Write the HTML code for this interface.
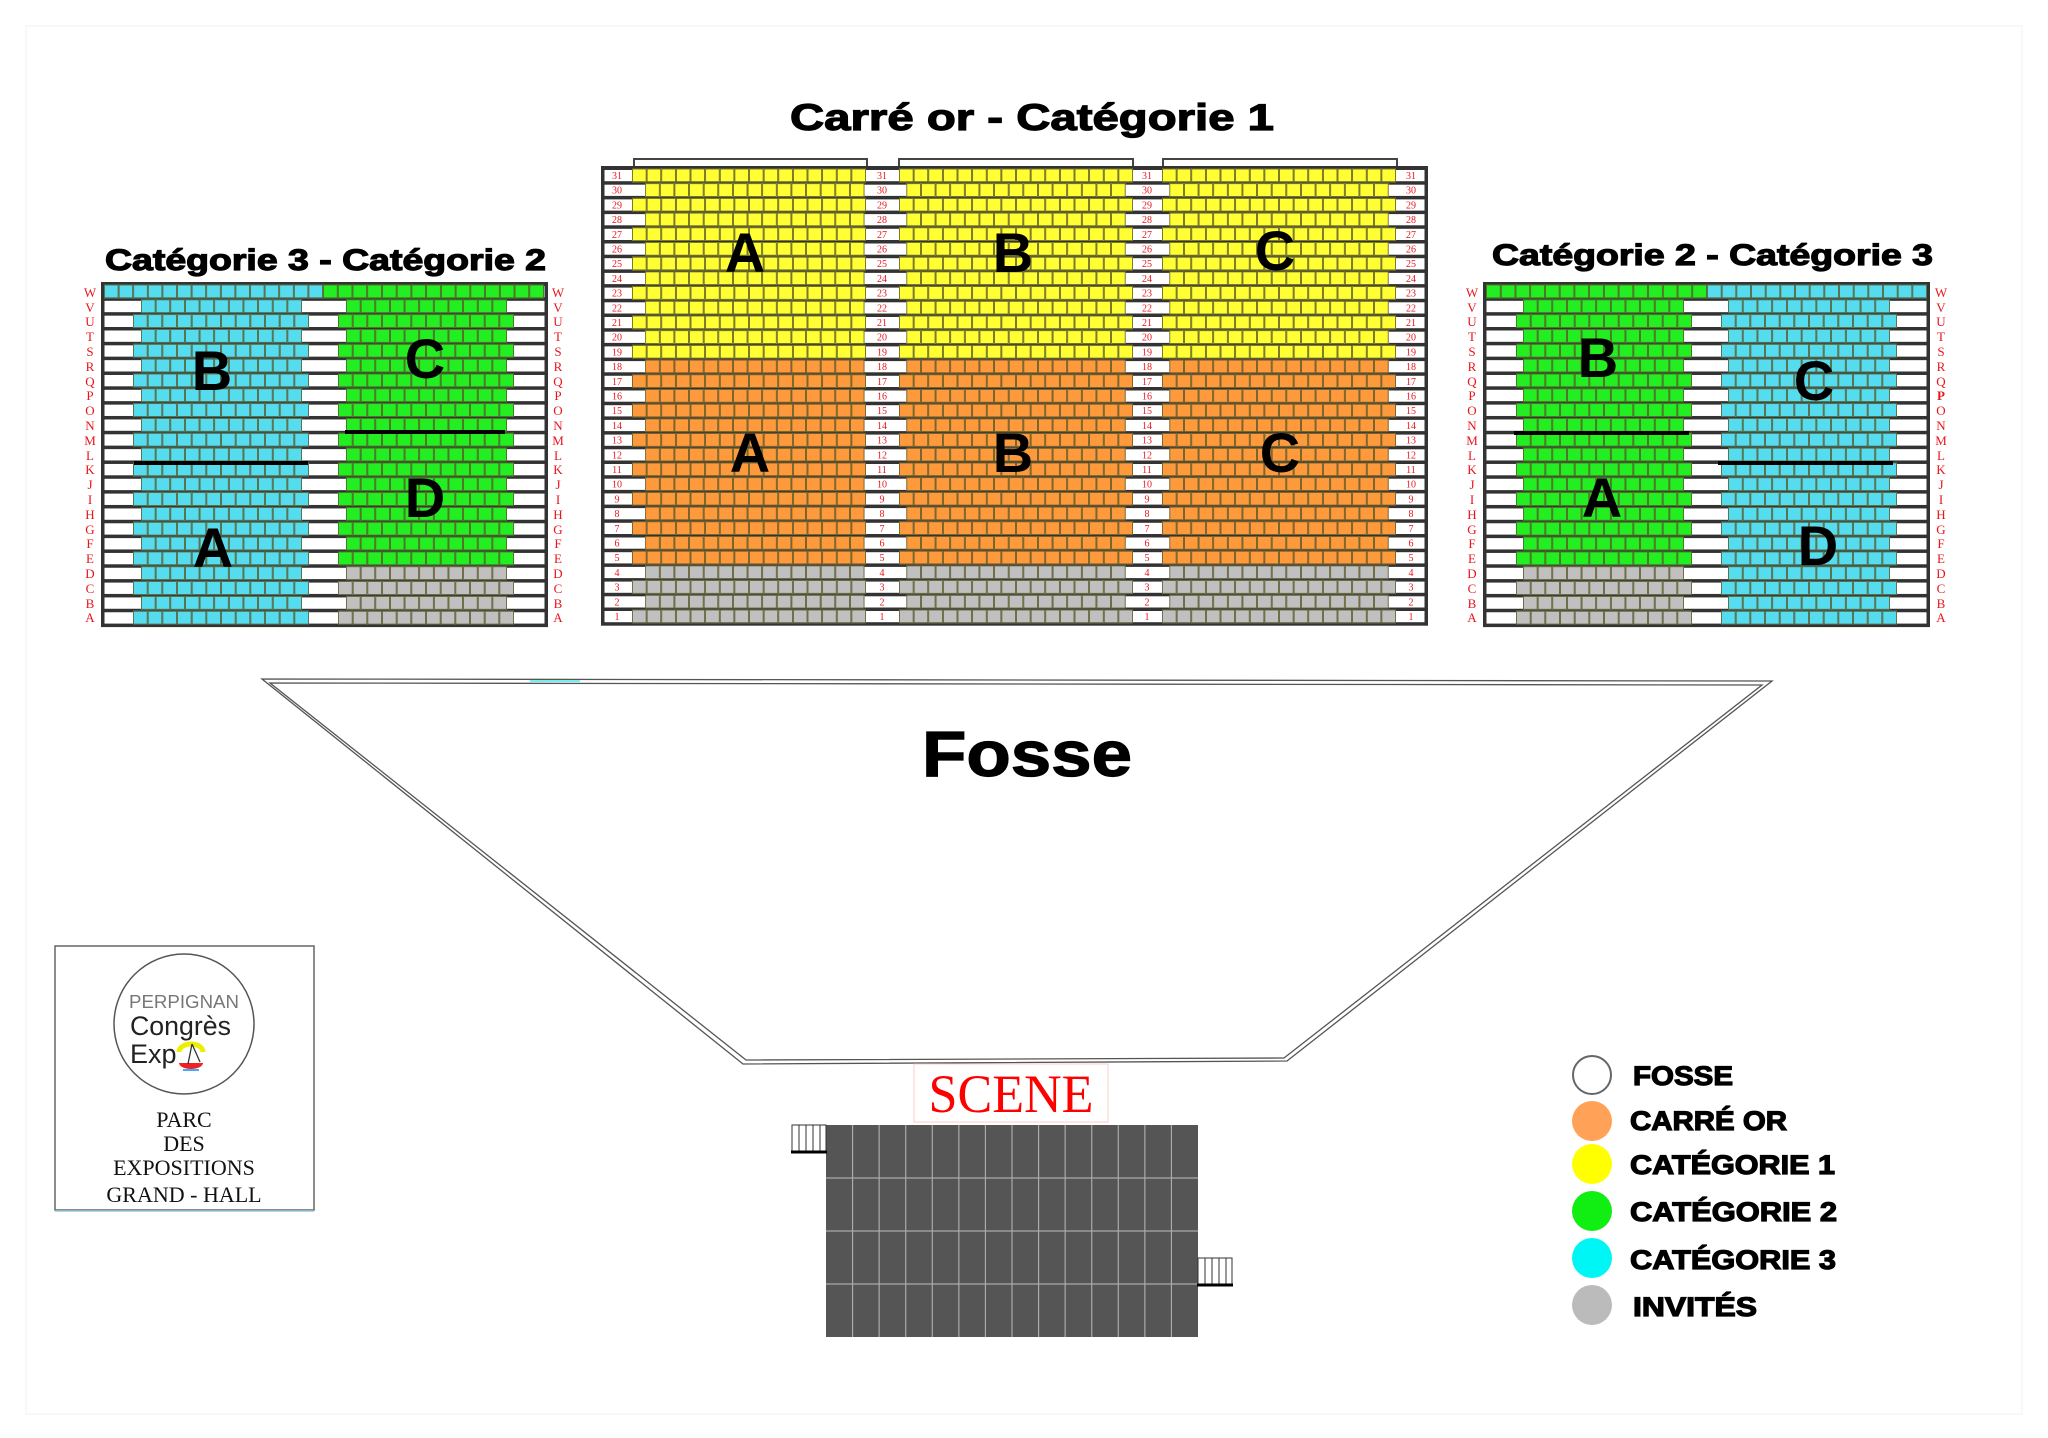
<!DOCTYPE html>
<html><head><meta charset="utf-8">
<style>
html,body{margin:0;padding:0;background:#fff;}
svg{display:block;}
.t{font-family:"Liberation Sans",Arial,sans-serif;font-weight:bold;fill:#000;stroke:#000;stroke-width:1.2px;}
.L{font-family:"Liberation Sans",Arial,sans-serif;font-weight:bold;fill:#000;}
.rl{font-family:"Liberation Serif",serif;fill:#e8151b;font-size:13px;text-anchor:middle;}
.rn{font-family:"Liberation Serif",serif;fill:#e8151b;font-size:10px;text-anchor:middle;}
</style></head>
<body>
<svg id="s" width="2048" height="1438" viewBox="0 0 2048 1438" xmlns="http://www.w3.org/2000/svg">
<rect width="2048" height="1438" fill="#fff"/>
<rect x="26" y="26" width="1996" height="1388" fill="none" stroke="#f2f2f2" stroke-width="1"/>

<!-- Titles -->
<text class="t" x="790" y="130" font-size="37" textLength="484" lengthAdjust="spacingAndGlyphs">Carré or - Catégorie 1</text>
<text class="t" x="105" y="270" font-size="30" textLength="441" lengthAdjust="spacingAndGlyphs">Catégorie 3 - Catégorie 2</text>
<text class="t" x="1492" y="265" font-size="30" textLength="441" lengthAdjust="spacingAndGlyphs">Catégorie 2 - Catégorie 3</text>

<!-- brackets -->
<g fill="none" stroke="#444" stroke-width="2">
<path d="M634 168 V159 H867 V168"/><path d="M899 168 V159 H1133 V168"/><path d="M1163 168 V159 H1397 V168"/>
</g>

<g id="seats"></g>

<!-- Center row numbers -->
<g id="cnum"></g>

<!-- Side row letters -->
<g class="rl">
<text x="90" y="297">W</text><text x="90" y="312">V</text><text x="90" y="326">U</text><text x="90" y="341">T</text><text x="90" y="356">S</text><text x="90" y="371">R</text><text x="90" y="386">Q</text><text x="90" y="400">P</text><text x="90" y="415">O</text><text x="90" y="430">N</text><text x="90" y="445">M</text><text x="90" y="460">L</text><text x="90" y="474">K</text><text x="90" y="489">J</text><text x="90" y="504">I</text><text x="90" y="519">H</text><text x="90" y="534">G</text><text x="90" y="548">F</text><text x="90" y="563">E</text><text x="90" y="578">D</text><text x="90" y="593">C</text><text x="90" y="608">B</text><text x="90" y="622">A</text>
<text x="558" y="297">W</text><text x="558" y="312">V</text><text x="558" y="326">U</text><text x="558" y="341">T</text><text x="558" y="356">S</text><text x="558" y="371">R</text><text x="558" y="386">Q</text><text x="558" y="400">P</text><text x="558" y="415">O</text><text x="558" y="430">N</text><text x="558" y="445">M</text><text x="558" y="460">L</text><text x="558" y="474">K</text><text x="558" y="489">J</text><text x="558" y="504">I</text><text x="558" y="519">H</text><text x="558" y="534">G</text><text x="558" y="548">F</text><text x="558" y="563">E</text><text x="558" y="578">D</text><text x="558" y="593">C</text><text x="558" y="608">B</text><text x="558" y="622">A</text>
<text x="1472" y="297">W</text><text x="1472" y="312">V</text><text x="1472" y="326">U</text><text x="1472" y="341">T</text><text x="1472" y="356">S</text><text x="1472" y="371">R</text><text x="1472" y="386">Q</text><text x="1472" y="400">P</text><text x="1472" y="415">O</text><text x="1472" y="430">N</text><text x="1472" y="445">M</text><text x="1472" y="460">L</text><text x="1472" y="474">K</text><text x="1472" y="489">J</text><text x="1472" y="504">I</text><text x="1472" y="519">H</text><text x="1472" y="534">G</text><text x="1472" y="548">F</text><text x="1472" y="563">E</text><text x="1472" y="578">D</text><text x="1472" y="593">C</text><text x="1472" y="608">B</text><text x="1472" y="622">A</text>
<text x="1941" y="297">W</text><text x="1941" y="312">V</text><text x="1941" y="326">U</text><text x="1941" y="341">T</text><text x="1941" y="356">S</text><text x="1941" y="371">R</text><text x="1941" y="386">Q</text><text x="1941" y="400" font-weight="bold">P</text><text x="1941" y="415">O</text><text x="1941" y="430">N</text><text x="1941" y="445">M</text><text x="1941" y="460">L</text><text x="1941" y="474">K</text><text x="1941" y="489">J</text><text x="1941" y="504">I</text><text x="1941" y="519">H</text><text x="1941" y="534">G</text><text x="1941" y="548">F</text><text x="1941" y="563">E</text><text x="1941" y="578">D</text><text x="1941" y="593">C</text><text x="1941" y="608">B</text><text x="1941" y="622">A</text>
</g>

<!-- Section dividers -->
<g stroke="#000" stroke-width="4">
<line x1="134" y1="463" x2="308" y2="463"/><line x1="345" y1="432" x2="505" y2="432"/>
<line x1="1514" y1="433" x2="1689" y2="433"/><line x1="1718" y1="463" x2="1893" y2="463"/>
</g>

<!-- Section letters -->
<g class="L" font-size="56" text-anchor="middle">
<text x="212" y="390">B</text><text x="425" y="378">C</text><text x="425" y="517">D</text><text x="213" y="567">A</text>
<text x="1598" y="377">B</text><text x="1814" y="400">C</text><text x="1602" y="517">A</text><text x="1818" y="565">D</text>
<text x="745" y="272">A</text><text x="1013" y="272">B</text><text x="1275" y="270">C</text>
<text x="750" y="472">A</text><text x="1013" y="472">B</text><text x="1280" y="472">C</text>
</g>

<!-- Fosse -->
<g fill="none" stroke="#555" stroke-width="1.3">
<polygon points="262,679 1772,681 1287,1061 743,1064"/>
<polygon points="270,683 1762,685 1284,1058 746,1060"/>
</g>
<line x1="530" y1="681" x2="580" y2="681" stroke="#7ee" stroke-width="2"/>
<text class="t" x="1027" y="776" font-size="64" text-anchor="middle" textLength="210" lengthAdjust="spacingAndGlyphs">Fosse</text>

<!-- Scene -->
<rect x="914" y="1064" width="194" height="58" fill="#fff" stroke="#fcc" stroke-width="1"/>
<text x="1011" y="1112" font-family="Liberation Serif,serif" font-size="54" fill="#f00" text-anchor="middle" textLength="165" lengthAdjust="spacingAndGlyphs">SCENE</text>
<g id="stage"></g>
<!-- stairs -->
<g stroke="#333" stroke-width="1" fill="#fff">
<rect x="792" y="1125" width="34" height="26"/>
<rect x="1198" y="1258" width="34" height="26"/>
</g>
<g stroke="#333" stroke-width="1">
<line x1="799" y1="1125" x2="799" y2="1151"/><line x1="806" y1="1125" x2="806" y2="1151"/><line x1="813" y1="1125" x2="813" y2="1151"/><line x1="820" y1="1125" x2="820" y2="1151"/>
<line x1="1205" y1="1258" x2="1205" y2="1284"/><line x1="1212" y1="1258" x2="1212" y2="1284"/><line x1="1219" y1="1258" x2="1219" y2="1284"/><line x1="1226" y1="1258" x2="1226" y2="1284"/>
</g>
<line x1="791" y1="1152" x2="827" y2="1152" stroke="#000" stroke-width="3"/>
<line x1="1197" y1="1285" x2="1233" y2="1285" stroke="#000" stroke-width="3"/>

<!-- Logo box -->
<rect x="55" y="946" width="259" height="264" fill="#fff" stroke="#666" stroke-width="1.5"/>
<line x1="55" y1="1211" x2="314" y2="1211" stroke="#9cd" stroke-width="1.5"/>
<circle cx="184" cy="1024" r="70" fill="none" stroke="#555" stroke-width="1.5"/>
<text x="184" y="1008" font-family="Liberation Sans,sans-serif" font-size="18" fill="#777" text-anchor="middle" textLength="110" lengthAdjust="spacingAndGlyphs">PERPIGNAN</text>
<text x="130" y="1035" font-family="Liberation Sans,sans-serif" font-size="27" fill="#222" textLength="101" lengthAdjust="spacingAndGlyphs">Congrès</text>
<text x="130" y="1063" font-family="Liberation Sans,sans-serif" font-size="27" fill="#222">Exp</text>
<path d="M179 1052 a12 8 0 0 1 24 0" stroke="#ee0" stroke-width="5" fill="none"/>
<path d="M179 1063 h24 a12 6 0 0 1 -24 0z" fill="#e22"/>
<path d="M183 1070 h16" stroke="#4af" stroke-width="2"/>
<path d="M192 1044 L188 1064 M192 1044 L200 1062" stroke="#333" stroke-width="1.3" fill="none"/>
<g font-family="Liberation Serif,serif" font-size="22" fill="#111" text-anchor="middle">
<text x="184" y="1127">PARC</text>
<text x="184" y="1151">DES</text>
<text x="184" y="1175">EXPOSITIONS</text>
<text x="184" y="1202">GRAND - HALL</text>
</g>

<!-- Legend -->
<circle cx="1592" cy="1075" r="19" fill="#fff" stroke="#666" stroke-width="2"/>
<circle cx="1592" cy="1121" r="20" fill="#ffa257"/>
<circle cx="1592" cy="1164" r="20" fill="#ffff00"/>
<circle cx="1592" cy="1211" r="20" fill="#11ee11"/>
<circle cx="1592" cy="1258" r="20" fill="#00f5f5"/>
<circle cx="1592" cy="1305" r="20" fill="#bbbbbb"/>
<g class="t" font-size="27">
<text x="1633" y="1085" textLength="100" lengthAdjust="spacingAndGlyphs">FOSSE</text>
<text x="1630" y="1130" textLength="157" lengthAdjust="spacingAndGlyphs">CARRÉ OR</text>
<text x="1630" y="1174" textLength="205" lengthAdjust="spacingAndGlyphs">CATÉGORIE 1</text>
<text x="1630" y="1221" textLength="207" lengthAdjust="spacingAndGlyphs">CATÉGORIE 2</text>
<text x="1630" y="1269" textLength="206" lengthAdjust="spacingAndGlyphs">CATÉGORIE 3</text>
<text x="1633" y="1316" textLength="124" lengthAdjust="spacingAndGlyphs">INVITÉS</text>
</g>
</svg>
<script>
(function(){
var NS="http://www.w3.org/2000/svg";
var g=document.getElementById("seats");
function R(p,x,y,w,h,f,s,sw){var r=document.createElementNS(NS,"rect");r.setAttribute("x",x);r.setAttribute("y",y);r.setAttribute("width",w);r.setAttribute("height",h);r.setAttribute("fill",f);if(s){r.setAttribute("stroke",s);r.setAttribute("stroke-width",sw||1);}p.appendChild(r);}
function seats(x1,x2,n,y,h,c){var w=(x2-x1)/n;R(g,x1,y,x2-x1,h,c);for(var i=0;i<n;i++){R(g,x1+i*w+0.5,y+0.5,w-1,h-1,"none","#5a5a2a",0.8);}}
var Y="#ffff33",O="#ff9a3c",GR="#c0c0c0",GN="#22ee22",CY="#55dcef";
/* center block */
var cx0=603,cx1=1426,cy0=168,rh=14.7;
R(g,cx0-2,cy0-2,cx1-cx0+4,31*rh+4,"#333");
var segs=[[632,866],[899,1133],[1162,1396]];
for(var r=0;r<31;r++){
 var row=31-r,y=cy0+r*rh;
 R(g,cx0+1,y+1.5,cx1-cx0-2,rh-2.5,"#fff","#333",1);
 var c=row>=19?Y:(row>=5?O:GR);
 for(var k=0;k<3;k++){var a=segs[k][0],b=segs[k][1],w=(b-a)/16;
  if(row%2==1)seats(a,b,16,y+0.5,rh-1,c);else seats(a+w*(k==0?0.9:0.5),b-w*(k==0?0.1:0.5),15,y+0.5,rh-1,c);}
}
/* center numbers */
var cn=document.getElementById("cnum");
var cols=[617,882,1147,1411];
for(var r=0;r<31;r++){var row=31-r;for(var k=0;k<4;k++){var t=document.createElementNS(NS,"text");t.setAttribute("class","rn");t.setAttribute("x",cols[k]);t.setAttribute("y",cy0+r*rh+11);t.textContent=row;cn.appendChild(t);}}
/* side blocks */
function side(x0,x1,W1,W2,odd,even,lc,rc,lgrey,rgrey){
 var y0=284,h=14.83;
 R(g,x0-2,y0-2,x1-x0+4,23*h+4,"#333");
 for(var i=0;i<23;i++){var y=y0+i*h;
  R(g,x0+1,y+1.5,x1-x0-2,h-2.5,"#fff","#333",1);
  if(i==0){seats(W1[0],W1[1],15,y+0.5,h-1,lc);seats(W2[0],W2[1],15,y+0.5,h-1,rc);continue;}
  var s=(i%2==1)?odd:even,n=(i%2==1)?11:12;
  var l=(i>=19&&lgrey)?GR:lc,rr=(i>=19&&rgrey)?GR:rc;
  seats(s[0],s[1],n,y+0.5,h-1,l);seats(s[2],s[3],n,y+0.5,h-1,rr);
 }
}
side(103,546,[104,323],[323,544],[141,302,346,507],[133,309,338,514],CY,GN,false,true);
side(1485,1928,[1486,1707],[1707,1927],[1523,1684,1728,1890],[1516,1692,1721,1897],GN,CY,true,false);
/* stage */
var st=document.getElementById("stage");
R(st,826,1125,372,212,"#555");
for(var i=1;i<14;i++){var l=document.createElementNS(NS,"line");var x=826+i*372/14;l.setAttribute("x1",x);l.setAttribute("x2",x);l.setAttribute("y1",1125);l.setAttribute("y2",1337);l.setAttribute("stroke","#aaa");l.setAttribute("stroke-width","1.2");st.appendChild(l);}
for(var j=1;j<4;j++){var l=document.createElementNS(NS,"line");var y=1125+j*53;l.setAttribute("x1",826);l.setAttribute("x2",1198);l.setAttribute("y1",y);l.setAttribute("y2",y);l.setAttribute("stroke","#aaa");l.setAttribute("stroke-width","1.2");st.appendChild(l);}
})();
</script>
</body></html>
